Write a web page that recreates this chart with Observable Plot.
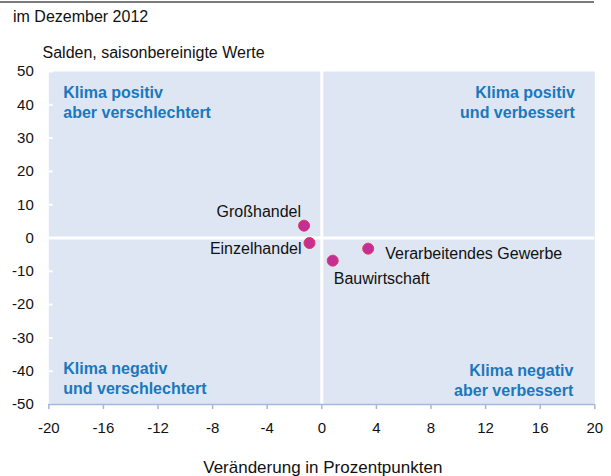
<!DOCTYPE html>
<html>
<head>
<meta charset="utf-8">
<script src="https://cdn.jsdelivr.net/npm/d3@7"></script>
<script src="https://cdn.jsdelivr.net/npm/@observablehq/plot@0.6"></script>
<style>
  html, body { margin: 0; padding: 0; background: #fff; }
  body { width: 611px; height: 476px; position: relative; overflow: hidden;
         font-family: "Liberation Sans", Arial, sans-serif; }
  #topline { position: absolute; left: 0; top: 1px; width: 594px; height: 2px; background: #7a7a7a; }
  #title { position: absolute; left: 13px; top: 9px; font-size: 16px; line-height: 16px; color: #111; }
  #chart { position: absolute; left: 0; top: 30px; }
</style>
</head>
<body>
<div id="topline"></div>
<div id="title">im Dezember 2012</div>
<div id="chart"></div>
<script>
// ---- data ----
const sectors = ["Großhandel", "Einzelhandel", "Bauwirtschaft", "Verarbeitendes Gewerbe"];
const changeValues = [-1.3, -0.9, 0.8, 3.4];     // Veränderung in Prozentpunkten
const balanceValues = [3.7, -1.5, -6.8, -3.2];   // Salden
const xTicks = [-20, -16, -12, -8, -4, 0, 4, 8, 12, 16, 20];
const yTicks = [50, 40, 30, 20, 10, 0, -10, -20, -30, -40, -50];
const quadrantLabels = [
  "Klima positiv\naber verschlechtert",
  "Klima positiv\nund verbessert",
  "Klima negativ\nund verschlechtert",
  "Klima negativ\naber verbessert"
];
const yAxisTitle = "Salden, saisonbereinigte Werte";
const xAxisTitle = "Veränderung in Prozentpunkten";

// ---- styling (label placement) ----
const labelPlacement = {
  "Großhandel": {anchor: "end", dx: -3, dy: -14},
  "Einzelhandel": {anchor: "end", dx: -8, dy: 6},
  "Bauwirtschaft": {anchor: "start", dx: 1, dy: 18},
  "Verarbeitendes Gewerbe": {anchor: "start", dx: 17, dy: 5}
};
const quadrantPlacement = [
  {frameAnchor: "top-left", textAnchor: "start", dx: 14.5, dy: 46},
  {frameAnchor: "top-right", textAnchor: "end", dx: -20, dy: 46},
  {frameAnchor: "bottom-left", textAnchor: "start", dx: 14.5, dy: -11},
  {frameAnchor: "bottom-right", textAnchor: "end", dx: -21.5, dy: -9}
];

const points = sectors.map((s, i) => ({sector: s, x: changeValues[i], y: balanceValues[i]}));

const bg = "#dee6f3";
const blue = "#1a78bd";
const axisBlue = "#a3b7df";
const font = "Liberation Sans, Arial, sans-serif";

const marks = [
  Plot.frame({fill: bg, stroke: null}),
  Plot.ruleX([0], {stroke: "white", strokeWidth: 3}),
  Plot.ruleY([0], {stroke: "white", strokeWidth: 3}),
  // white inner ticks on y
  Plot.axisY({ticks: yTicks, tickSize: 4, dx: 4.5, stroke: "white", strokeWidth: 2, text: null, label: null}),
  Plot.axisY({ticks: yTicks, tickSize: 0, tickPadding: 15, fontSize: 15, fill: "#111", label: null,
              tickFormat: d => String(d)}),
  Plot.ruleY([-50], {stroke: axisBlue, strokeWidth: 1.5}),
  Plot.axisX({ticks: xTicks, tickSize: 5, tickPadding: 13, stroke: axisBlue, strokeWidth: 1.5,
              fontSize: 15, fill: "#111", label: null, tickFormat: d => String(d)}),
  ...quadrantLabels.map((t, i) => Plot.text([t], {
    frameAnchor: quadrantPlacement[i].frameAnchor,
    textAnchor: quadrantPlacement[i].textAnchor,
    dx: quadrantPlacement[i].dx, dy: quadrantPlacement[i].dy,
    lineAnchor: "bottom", lineHeight: 1.19,
    fontSize: 16, fontWeight: "bold", fill: blue
  })),
  Plot.dot(points, {x: "x", y: "y", r: 5.5, fill: "#c52f95", stroke: "#dc3a5a", strokeWidth: 1}),
  ...points.map(p => Plot.text([p], {
    x: "x", y: "y", text: "sector",
    textAnchor: labelPlacement[p.sector].anchor,
    dx: labelPlacement[p.sector].dx, dy: labelPlacement[p.sector].dy,
    fontSize: 16, fill: "#111"
  })),
  Plot.text([yAxisTitle], {frameAnchor: "top-left", textAnchor: "start", lineAnchor: "bottom",
    dx: -6.3, dy: -14, fontSize: 16, fill: "#111"}),
  Plot.text([xAxisTitle], {frameAnchor: "bottom", textAnchor: "middle", lineAnchor: "bottom",
    dx: 1, dy: 68, fontSize: 17, fill: "#111"})
];

const chart = Plot.plot({
  width: 611,
  height: 446,
  marginTop: 41,
  marginBottom: 72,
  marginLeft: 48.3,
  marginRight: 16.7,
  style: {fontFamily: font, background: "transparent", overflow: "visible"},
  x: {domain: [-20, 20], ticks: xTicks},
  y: {domain: [-50, 50], ticks: yTicks},
  marks
});
document.getElementById("chart").appendChild(chart);
</script>
</body>
</html>
